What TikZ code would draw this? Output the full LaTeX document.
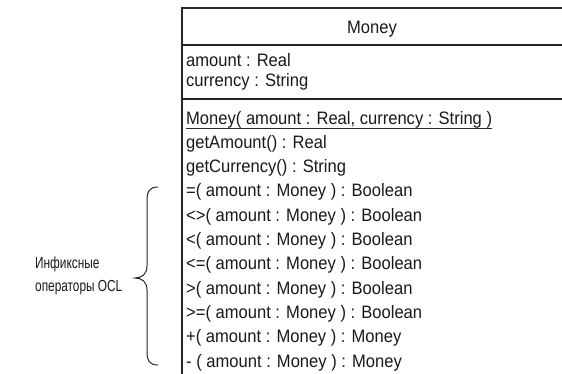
\documentclass[tikz,border=0pt]{standalone}
\usepackage{fontspec}
\setmainfont{Liberation Sans}
\newfontfamily\boxfont[FakeStretch=0.92]{Liberation Sans}
\newfontfamily\narrowfont[FakeStretch=0.74]{Liberation Sans}
\usetikzlibrary{calc}
\tikzset{
  boxline/.style={line width=1.3pt, draw=black!85},
  member/.style={anchor=base west, inner sep=0pt, font=\boxfont\fontsize{18}{20}\selectfont, text=black!90},
  titletext/.style={anchor=base, inner sep=0pt, font=\boxfont\fontsize{18}{20}\selectfont, text=black!90},
  labeltext/.style={anchor=base west, inner sep=0pt, font=\narrowfont\fontsize{16}{18}\selectfont, text=black!90},
  bracestyle/.style={line width=1pt, draw=black!85}
}
\begin{document}
\begin{tikzpicture}[x=1pt,y=-1pt]
\useasboundingbox (0,0) rectangle (562,373);
\clip (0,0) rectangle (562,373);
% class box
\coordinate (tl) at (182,8);
\coordinate (bl) at (182,380);
\coordinate (tr) at (570,8);
\coordinate (s1l) at (182,45);
\coordinate (s1r) at (570,45);
\coordinate (s2l) at (182,99);
\coordinate (s2r) at (570,99);
\draw[boxline] (bl) -- (tl) -- (tr);
\draw[boxline] (s1l) -- (s1r);
\draw[boxline] (s2l) -- (s2r);
% title
\node[titletext] (title) at (372,33) {Money};
% attributes
\node[member] (a1) at (186,66) {amount : Real};
\node[member] (a2) at (186,86) {currency : String};
% operations
\node[member] (o1) at (186,124) {Money( amount : Real, currency : String )};
\draw[line width=0.8pt, black!85] ($(o1.base west)+(0,4)$) -- ($(o1.base east)+(0,4)$);
\node[member] (o2) at (186,148.3) {getAmount() : Real};
\node[member] (o3) at (186,172.6) {getCurrency() : String};
\node[member] (o4) at (186,196.9) {=( amount : Money ) : Boolean};
\node[member] (o5) at (186,221.2) {<>( amount : Money ) : Boolean};
\node[member] (o6) at (186,245.5) {<( amount : Money ) : Boolean};
\node[member] (o7) at (186,269.8) {<=( amount : Money ) : Boolean};
\node[member] (o8) at (186,294.1) {>( amount : Money ) : Boolean};
\node[member] (o9) at (186,318.4) {>=( amount : Money ) : Boolean};
\node[member] (o10) at (186,342.7) {+( amount : Money ) : Money};
\node[member] (o11) at (186,367) {- ( amount : Money ) : Money};
% brace
\coordinate (bt) at (158,187);
\coordinate (bb) at (158,365);
\coordinate (tip) at (135,278);
\draw[bracestyle] (bt) .. controls (149,187) and (147,192) .. (147,201)
  -- (147,266) .. controls (147,274) and (142,278) .. (tip)
  .. controls (142,278) and (147,282) .. (147,290)
  -- (147,352) .. controls (147,360) and (149,365) .. (bb);
% label
\node[labeltext] (l1) at (35,268) {Инфиксные};
\node[labeltext] (l2) at (35,291) {операторы OCL};
\end{tikzpicture}
\end{document}
